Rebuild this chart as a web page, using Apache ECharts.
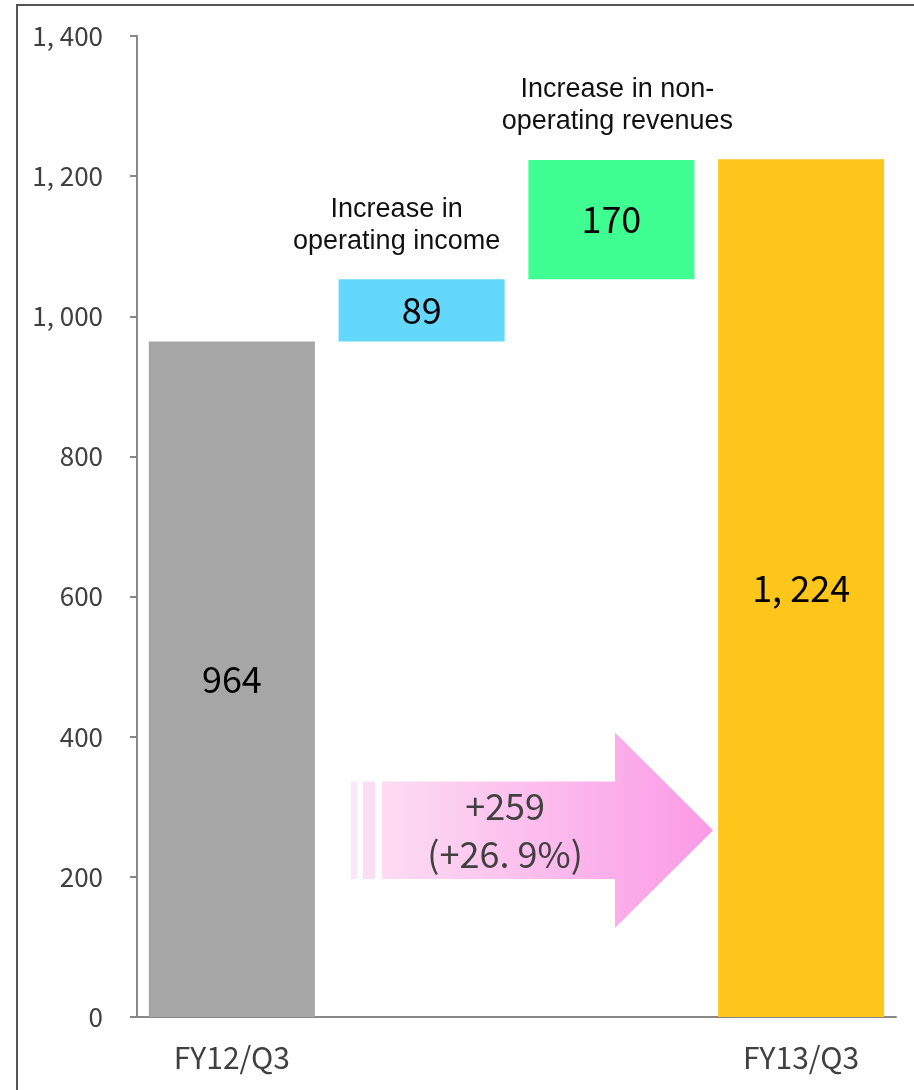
<!DOCTYPE html>
<html>
<head>
<meta charset="utf-8">
<title>Ordinary income bridge</title>
<script src="https://cdn.jsdelivr.net/npm/echarts@6/dist/echarts.min.js"></script>
<style>
  html, body { margin: 0; padding: 0; background: #fff; }
  #chart { width: 914px; height: 1090px; }
</style>
</head>
<body>
<div id="chart"></div>
<script>
// Bridge from FY12/Q3 to FY13/Q3
const categories = ['FY12/Q3', '', '', 'FY13/Q3'];
const startValue = 964;
const stepValues = [89, 170];
const endValue = 1224;
const stepCaptions = ['Increase in\noperating income', 'Increase in non-\noperating revenues'];
const changeLabels = ['+259', '(+26. 9%)'];
const yTicks = { min: 0, max: 1400, interval: 200 };

const NARROW = '"Noto Sans CJK JP", sans-serif';
const ARIAL = '"Liberation Sans", Arial, sans-serif';
const barColors = ['#A6A6A6', '#64D7FD', '#3FFF93', '#FEC61A'];

// "1,224" -> "1, 224"
function fmt(v) {
  return String(v).replace(/\B(?=(\d{3})+(?!\d))/g, ', ');
}

// floating bases of the waterfall
const visible = [startValue].concat(stepValues, [endValue]);
const bases = [0];
let running = startValue;
stepValues.forEach(function (s) { bases.push(running); running += s; });
bases.push(0);

const chart = echarts.init(document.getElementById('chart'), null, { renderer: 'canvas' });

function arrowItem(params, api) {
  const c0 = api.coord([0, 0]);
  const band = api.size([1, 0])[0];
  const px = function (f) { return c0[0] + f * band; };
  const py = function (v) { return api.coord([0, v])[1]; };
  const bodyLo = 197, bodyHi = 336, headLo = 127, headHi = 406, mid = 266.5;
  const xBody = 0.791, xNeck = 2.019, xTip = 2.536;
  return {
    type: 'group',
    children: [
      { type: 'rect', shape: { x: px(0.628), y: py(bodyHi), width: px(0.66) - px(0.628), height: py(bodyLo) - py(bodyHi) },
        style: { fill: '#FDE6F7' } },
      { type: 'rect', shape: { x: px(0.691), y: py(bodyHi), width: px(0.754) - px(0.691), height: py(bodyLo) - py(bodyHi) },
        style: { fill: '#FDDDF4' } },
      { type: 'polygon',
        shape: { points: [
          [px(xBody), py(bodyHi)], [px(xNeck), py(bodyHi)], [px(xNeck), py(headHi)],
          [px(xTip), py(mid)], [px(xNeck), py(headLo)], [px(xNeck), py(bodyLo)], [px(xBody), py(bodyLo)]
        ] },
        style: { fill: new echarts.graphic.LinearGradient(0, 0, 1, 0, [
          { offset: 0, color: '#FDDCF3' }, { offset: 1, color: '#FB9AE6' }
        ]) } },
      { type: 'text',
        style: { text: changeLabels.join('\n'), x: px(1.44), y: py(mid), align: 'center', verticalAlign: 'middle',
          fontFamily: NARROW, fontSize: 36, lineHeight: 48, fill: '#404040' } }
    ]
  };
}

const captionDx = [-25, 6];
function captionItem(params, api) {
  const p = api.coord([api.value(0), api.value(1)]);
  return {
    type: 'text',
    style: { text: stepCaptions[params.dataIndex], x: p[0] + captionDx[params.dataIndex], y: p[1] - 22,
      align: 'center', verticalAlign: 'bottom', fontFamily: ARIAL, fontSize: 27, lineHeight: 32, fill: '#111' }
  };
}

const option = {
  animation: false,
  graphic: [{
    type: 'rect', z: -10, silent: true,
    shape: { x: 17, y: 5, width: 1000, height: 1200 },
    style: { fill: null, stroke: '#555', lineWidth: 2 }
  }],
  grid: { left: 137, right: 18, top: 36, bottom: 73 },
  xAxis: {
    type: 'category',
    data: categories,
    axisLine: { lineStyle: { color: '#888', width: 2 } },
    axisTick: { inside: true, length: 7, lineStyle: { color: '#888', width: 2 } },
    axisLabel: { fontFamily: NARROW, fontSize: 30, color: '#404040', margin: 26 }
  },
  yAxis: {
    type: 'value',
    min: yTicks.min, max: yTicks.max, interval: yTicks.interval,
    splitLine: { show: false },
    axisLine: { show: true, lineStyle: { color: '#888', width: 2 } },
    axisTick: { show: true, length: 7, lineStyle: { color: '#888', width: 2 } },
    axisLabel: { fontFamily: NARROW, fontSize: 26, color: '#404040', margin: 34, formatter: fmt }
  },
  series: [
    {
      type: 'bar', stack: 'w', barCategoryGap: '12.5%', silent: true,
      itemStyle: { color: 'transparent' },
      data: bases
    },
    {
      type: 'bar', stack: 'w', barCategoryGap: '12.5%',
      data: visible.map(function (v, i) { return { value: v, itemStyle: { color: barColors[i] } }; }),
      label: {
        show: true, position: 'inside', fontFamily: NARROW, fontSize: 36, color: '#000',
        formatter: function (p) { return fmt(p.value); }
      }
    },
    {
      type: 'custom', renderItem: captionItem, silent: true, z: 5,
      data: stepValues.map(function (s, i) { return [i + 1, bases[i + 1] + s]; })
    },
    {
      type: 'custom', renderItem: arrowItem, silent: true, z: 4,
      data: [[0, 0]]
    }
  ]
};
chart.setOption(option);
</script>
</body>
</html>
